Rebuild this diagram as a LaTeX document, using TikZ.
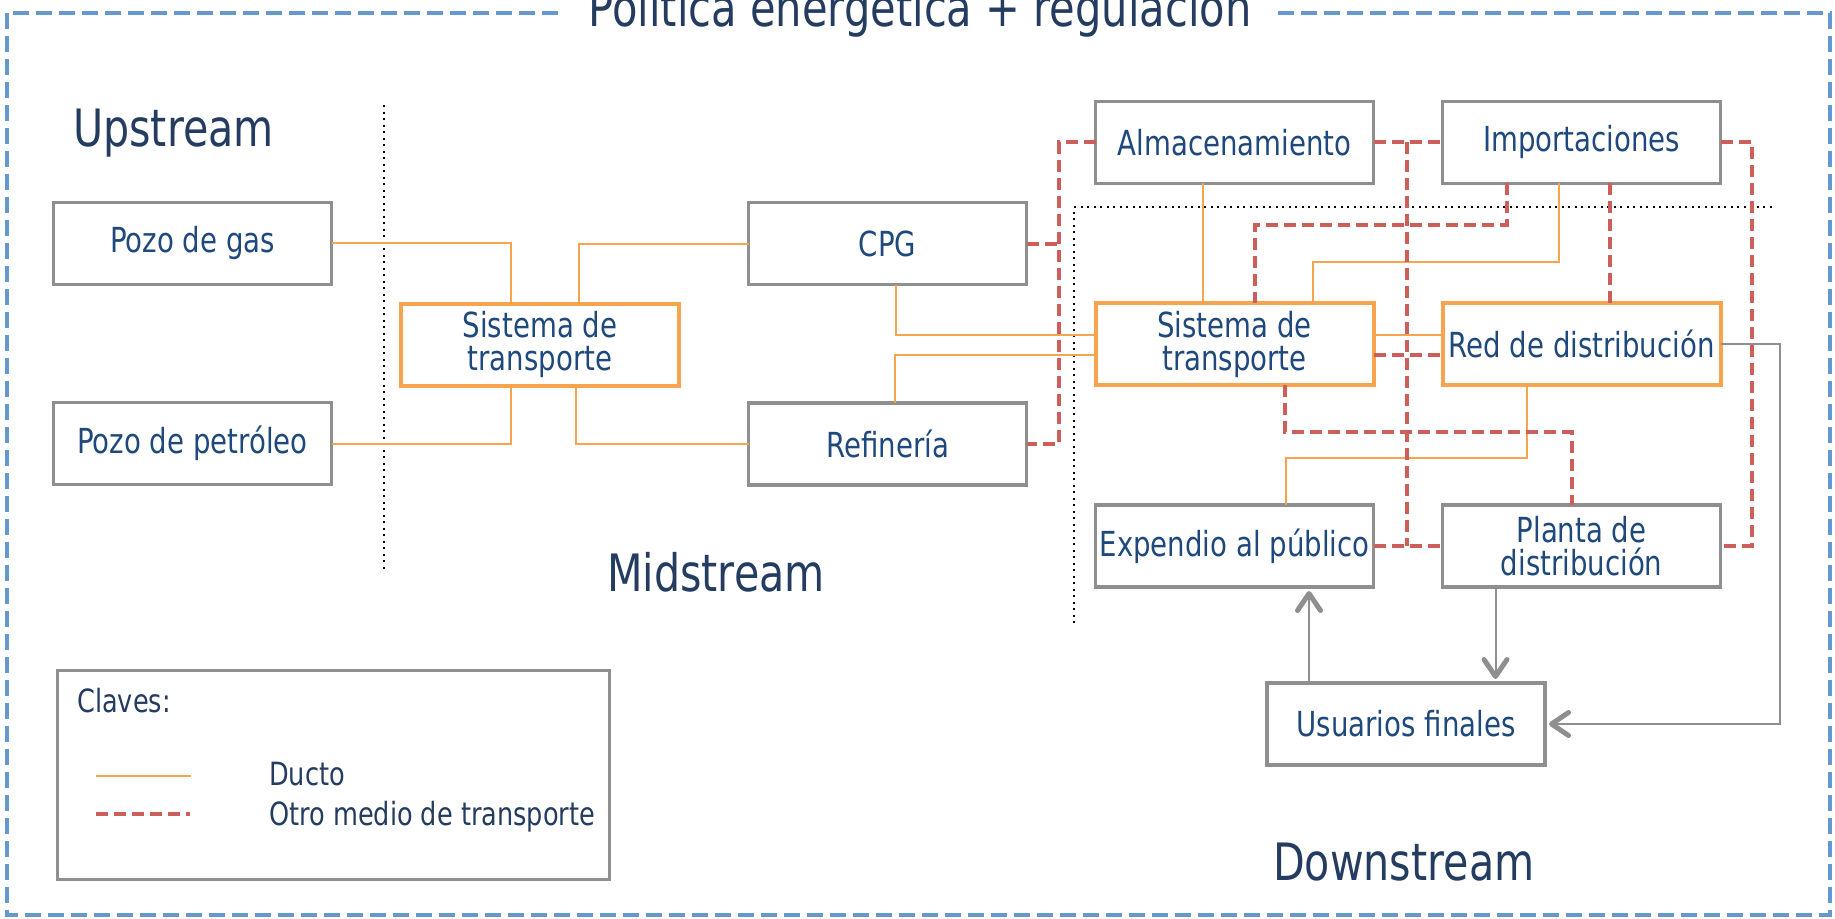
\documentclass[tikz,border=0pt]{standalone}
\usepackage{fontspec}
\newfontfamily\df{DejaVu Sans}[FakeStretch=0.8]
\usetikzlibrary{arrows.meta}
\definecolor{boxtxt}{RGB}{31,73,125}
\definecolor{lbltxt}{RGB}{36,60,96}
\definecolor{boxgray}{RGB}{143,143,143}
\definecolor{ductoc}{RGB}{248,163,77}
\definecolor{otroc}{RGB}{205,95,90}
\definecolor{borderc}{RGB}{100,152,206}
\begin{document}
\begin{tikzpicture}[x=1pt,y=-1pt,font=\df,
 gbox/.style={draw=boxgray,line width=3.5pt,fill=white,minimum width=278pt,minimum height=82pt,
   text=boxtxt,align=center,inner sep=0pt,outer sep=0pt,font={\df\fontsize{34.5}{33}\selectfont}},
 obox/.style={gbox,draw=ductoc,line width=4pt},
 ducto/.style={draw=ductoc,line width=2pt},
 otro/.style={draw=otroc,line width=4pt,dash pattern=on 12pt off 6pt},
 garrow/.style={draw=boxgray,line width=2pt,shorten >=4pt,
   -{Straight Barb[length=17pt,width=23pt,line width=5pt 0,round]}},
 sepline/.style={draw=black,line width=2pt,dash pattern=on 2pt off 4.5pt},
 big/.style={text=lbltxt,font={\df\fontsize{51.5}{55}\selectfont},inner sep=0pt,anchor=base west},
 legtxt/.style={text=lbltxt,font={\df\fontsize{32}{36}\selectfont},inner sep=0pt,anchor=base west},
]
\useasboundingbox (0,0) rectangle (1835,918);

% outer border
\draw[draw=borderc,line width=4pt,dash pattern=on 16pt off 7pt] (7,13) rectangle (1830,915);
\node[text=lbltxt,font={\df\fontsize{52}{56}\selectfont},fill=white,inner xsep=26pt,inner ysep=4pt,anchor=base] (title) at (920,26) {Política energética + regulación};

% dotted separators
\coordinate (s1a) at (384,105);
\coordinate (s1b) at (384,573);
\coordinate (s2a) at (1074,207);
\coordinate (s2b) at (1074,623);
\coordinate (s2c) at (1776,207);
\draw[sepline] (s1a) -- (s1b);
\draw[sepline] (s2b) -- (s2a) -- (s2c);

% labels
\node[big] (up) at (73,146) {Upstream};
\node[big] (mid) at (607,591) {Midstream};
\node[big] (down) at (1273,880) {Downstream};

% boxes
\node[gbox] (pgas) at (192.5,243.3) {Pozo de gas};
\node[gbox] (ppet) at (192.5,443.5) {Pozo de petróleo};
\node[obox] (st1) at (540,344.5) {Sistema de\\transporte};
\node[gbox] (cpg) at (887.6,243.5) {CPG};
\node[gbox] (ref) at (887.6,444) {Refinería};
\node[gbox] (alm) at (1234.5,142.3) {Almacenamiento};
\node[gbox] (imp) at (1581.6,142.3) {Importaciones};
\node[obox] (st2) at (1234.5,344) {Sistema de\\transporte};
\node[obox] (red) at (1581.6,344) {Red de distribución};
\node[gbox] (exp) at (1234.5,546) {Expendio al público};
\node[gbox] (pla) at (1581.6,546) {Planta de\\distribución};
\node[gbox] (usu) at (1406,724) {Usuarios finales};

% ducto connectors
\draw[ducto] (pgas.east) -| (st1.north -| 511,0);
\draw[ducto] (st1.north -| 579,0) |- (cpg.west);
\draw[ducto] (ppet.east) -| (st1.south -| 511,0);
\draw[ducto] (st1.south -| 576,0) |- (ref.west);
\draw[ducto] (cpg.south -| 896,0) |- (st2.west |- 0,334.7);
\draw[ducto] (ref.north -| 895,0) |- (st2.west |- 0,355);
\draw[ducto] (alm.south -| 1202.5,0) -- (st2.north -| 1202.5,0);
\draw[ducto] (imp.south -| 1559,0) |- (1312.5,262) -- (st2.north -| 1312.5,0);
\draw[ducto] (st2.east |- 0,335) -- (red.west |- 0,335);
\draw[ducto] (red.south -| 1526.5,0) |- (1286,457.7) -- (exp.north -| 1286,0);

% otro medio connectors
\draw[otro] (alm.west) -| (ref.east -| 1059,0) -- (ref.east);
\draw[otro] (cpg.east) -- (cpg.east -| 1059,0);
\draw[otro] (alm.east) -- (imp.west);
\draw[otro] (alm.east -| 1406.5,0) -- (exp.east -| 1406.5,0);
\draw[otro] (exp.east) -- (pla.west);
\draw[otro] (imp.south -| 1506.5,0) |- (1255,224.7) -- (st2.north -| 1255,0);
\draw[otro] (imp.south -| 1609.5,0) -- (red.north -| 1609.5,0);
\draw[otro] (imp.east) -| (pla.east -| 1751.5,0) -- (pla.east);
\draw[otro] (st2.east |- 0,355) -- (red.west |- 0,355);
\draw[otro] (st2.south -| 1285,0) |- (1571.5,431.7) -- (pla.north -| 1571.5,0);

% gray arrows
\draw[garrow] (red.east) -| (usu.east -| 1780,0) -- (usu.east);
\draw[garrow] (pla.south -| 1495.5,0) -- (usu.north -| 1495.5,0);
\draw[garrow] (usu.north -| 1309,0) -- (exp.south -| 1309,0);

% legend
\node[draw=boxgray,line width=3pt,minimum width=552pt,minimum height=209pt,inner sep=0pt] (legend) at (333.5,775) {};
\node[legtxt] (claves) at (77,712) {Claves:};
\node[legtxt] (lducto) at (269,785) {Ducto};
\node[legtxt] (lotro) at (269,825) {Otro medio de transporte};
\coordinate (d1) at (96,776);
\coordinate (d2) at (191,776);
\coordinate (o1) at (96,814);
\coordinate (o2) at (190,814);
\draw[ducto] (d1) -- (d2);
\draw[otro] (o1) -- (o2);
\end{tikzpicture}
\end{document}
